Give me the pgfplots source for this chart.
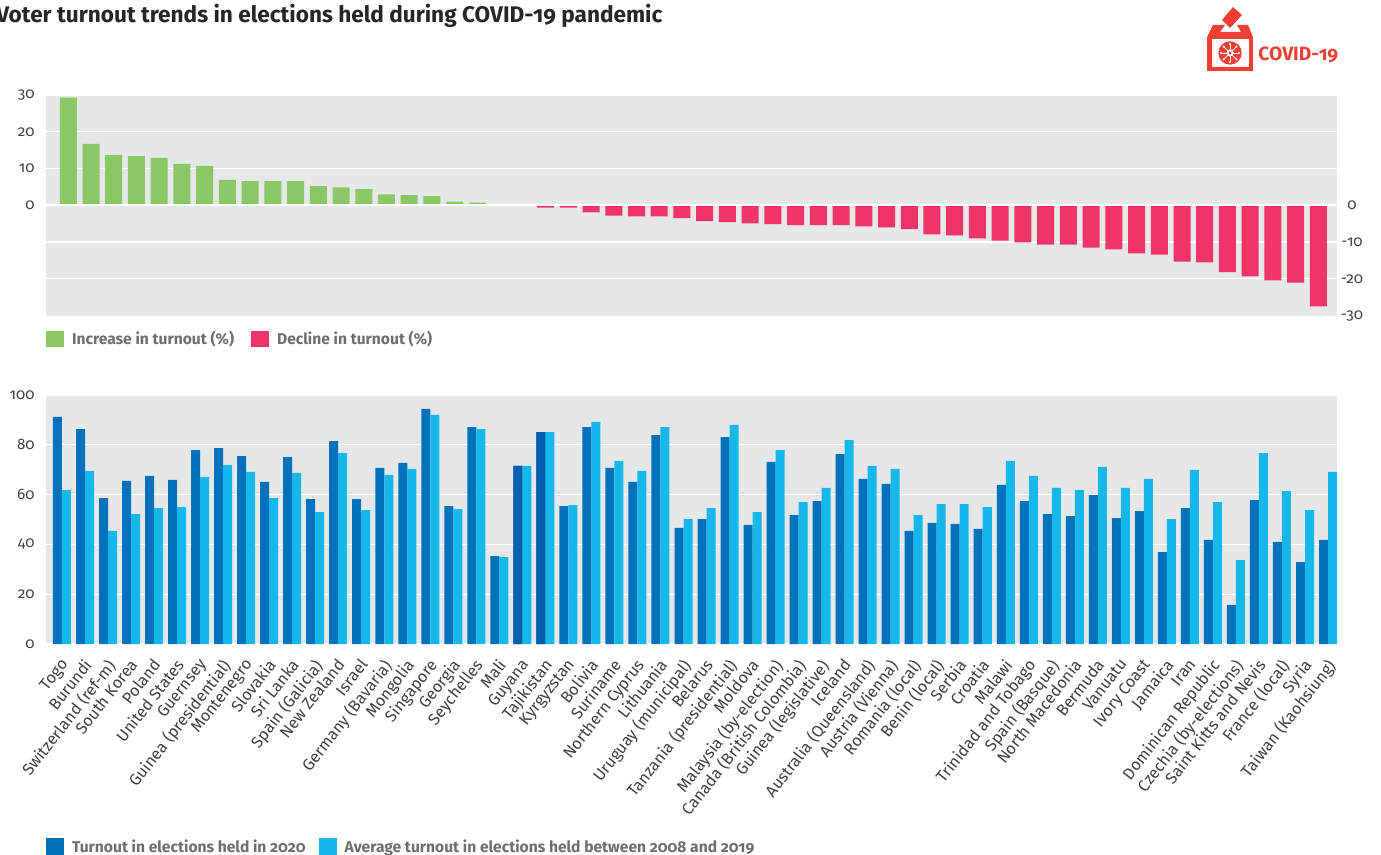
\documentclass[border=0pt]{standalone}
\usepackage{fontspec}
\setmainfont[Numbers=OldStyle]{Fira Sans}
\usepackage{pgfplots}
\pgfplotsset{compat=1.18}
\usepackage{pgfplotstable}
\definecolor{panel}{HTML}{E6E7E9}
\definecolor{upgreen}{HTML}{8AC866}
\definecolor{downred}{HTML}{EE3468}
\definecolor{darkblue}{HTML}{0071BB}
\definecolor{deepblue}{HTML}{005EAE}
\definecolor{lightblue}{HTML}{16B8EB}
\definecolor{ticktext}{HTML}{404040}
\definecolor{legtext}{HTML}{6D6E71}
\definecolor{logored}{HTML}{EF3E33}

% change in turnout, one row per election
\pgfplotstableread{
idx up down
0 29.3 0
1 16.7 0
2 13.7 0
3 13.4 0
4 12.9 0
5 11.3 0
6 10.7 0
7 6.9 0
8 6.6 0
9 6.6 0
10 6.6 0
11 5.2 0
12 4.9 0
13 4.4 0
14 3.0 0
15 2.8 0
16 2.5 0
17 1.0 0
18 0.7 0
19 0 0
20 0 0
21 0 -0.6
22 0 -0.6
23 0 -1.9
24 0 -2.8
25 0 -3.0
26 0 -3.0
27 0 -3.5
28 0 -4.3
29 0 -4.6
30 0 -4.9
31 0 -5.1
32 0 -5.4
33 0 -5.4
34 0 -5.4
35 0 -5.7
36 0 -6.0
37 0 -6.5
38 0 -7.9
39 0 -8.2
40 0 -9.0
41 0 -9.6
42 0 -10.1
43 0 -10.7
44 0 -10.7
45 0 -11.5
46 0 -12.0
47 0 -13.1
48 0 -13.4
49 0 -15.3
50 0 -15.5
51 0 -18.2
52 0 -19.3
53 0 -20.4
54 0 -21.0
55 0 -27.5
}\changetable

% turnout 2020 and average 2008-2019
\pgfplotstableread{
idx now avg
0 91.2 61.8
1 86.3 69.5
2 58.6 45.4
3 65.5 52.2
4 67.5 54.6
5 65.9 55.0
6 77.9 67.1
7 78.7 71.9
8 75.5 69.1
9 65.1 58.6
10 75.1 68.7
11 58.2 53.0
12 81.5 76.7
13 58.2 53.8
14 70.7 67.9
15 72.7 70.3
16 94.4 92.0
17 55.4 54.2
18 87.1 86.3
19 35.3 34.9
20 71.5 71.5
21 85.1 85.1
22 55.4 55.8
23 87.1 89.2
24 70.7 73.5
25 65.1 69.5
26 83.9 87.1
27 46.6 50.2
28 50.2 54.6
29 83.1 88.0
30 47.8 53.0
31 73.1 77.9
32 51.8 57.0
33 57.4 62.7
34 76.3 81.9
35 66.3 71.5
36 64.3 70.3
37 45.4 51.8
38 48.6 56.2
39 48.2 56.2
40 46.2 55.0
41 63.9 73.5
42 57.4 67.5
43 52.2 62.7
44 51.4 61.8
45 59.8 71.1
46 50.6 62.7
47 53.4 66.3
48 36.9 50.2
49 54.6 69.9
50 41.8 57.0
51 15.7 33.7
52 57.8 76.7
53 41.0 61.4
54 32.9 53.8
55 41.8 69.1
}\turnouttable

\pgfplotsset{
  panelaxis/.style={
    scale only axis,
    width=645.5pt,
    axis background/.style={fill=panel},
    axis line style={draw=none},
    major tick length=0pt,
    ymajorgrids,
    grid style={white,line width=0.6pt},
    /pgf/number format/assume math mode=true,
    tick label style={font=\fontsize{7.6}{9}\selectfont,text=ticktext},
    legend cell align=left,
  },
  swatchleg/.style={
    legend style={draw=none,fill=none,inner sep=0pt,outer sep=0pt,
      font=\fontsize{7.8}{9}\selectfont\bfseries,text=legtext,
      legend columns=2,anchor=north west,
      nodes={inner sep=0pt,anchor=base west}},
    legend image code/.code={\fill[##1] (0pt,-1.2pt) rectangle (9pt,7pt);\path (13pt,0pt);},
  },
}

\begin{document}
\begin{tikzpicture}
\useasboundingbox (0pt,0pt) rectangle (690.5pt,-427.5pt);

\node[anchor=base west,inner sep=0pt,font=\fontsize{11.3}{14}\selectfont\bfseries,text=black!85]
  at (-2pt,-11.1pt) {Voter turnout trends in elections held during COVID-19 pandemic};

% top panel
\begin{axis}[panelaxis,
  at={(23pt,-158pt)},anchor=south west,height=110.5pt,
  ybar,
  swatchleg,
  xmin=-0.98,xmax=55.82,ymin=-30.1,ymax=30,
  xtick=\empty,
  ytick={0,10,20,30},
  extra y ticks={-10,-20},extra y tick labels={},
  extra y tick style={grid style={white,line width=0.6pt}},
  yticklabel style={inner sep=0pt,xshift=-5.5pt},
  legend style={at={(0,-0.067)},
    /tikz/column 1/.style={column sep=0pt},
    /tikz/column 2/.style={column sep=8.5pt}},
]
\addplot[fill=upgreen,draw=none,bar width=8.5pt,bar shift=0pt] table[x=idx,y=up] {\changetable};
\addplot[fill=downred,draw=none,bar width=8.5pt,bar shift=0pt] table[x=idx,y=down] {\changetable};
\draw[white,line width=1pt] (axis cs:-0.98,0) -- (axis cs:55.82,0);
\legend{Increase in turnout (\%),Decline in turnout (\%)}
\end{axis}

% labels of the negative half, on the right
\begin{axis}[panelaxis,
  at={(23pt,-158pt)},anchor=south west,height=110.5pt,
  axis background/.style={},
  ymajorgrids=false,
  xmin=-0.98,xmax=55.82,ymin=-30.1,ymax=30,
  xtick=\empty,
  ytick pos=right,
  ytick={0,-10,-20,-30},
  yticklabel style={anchor=center,xshift=7.5pt},
]
\end{axis}

% bottom panel
\begin{axis}[panelaxis,
  at={(23pt,-322pt)},anchor=south west,height=124.5pt,
  ybar,
  swatchleg,
  xmin=-0.695,xmax=55.39,ymin=0,ymax=100,
  ytick={0,20,40,60,80,100},
  yticklabel style={inner sep=0pt,xshift=-5.5pt},
  xtick={0,...,55},
  xticklabels={Togo,Burundi,Switzerland (ref-m),South Korea,Poland,United States,Guernsey,Guinea (presidential),Montenegro,Slovakia,Sri Lanka,Spain (Galicia),New Zealand,Israel,Germany (Bavaria),Mongolia,Singapore,Georgia,Seychelles,Mali,Guyana,Tajikistan,Kyrgyzstan,Bolivia,Suriname,Northern Cyprus,Lithuania,Uruguay (municipal),Belarus,Tanzania (presidential),Moldova,Malaysia (by-election),Canada (British Colombia),Guinea (legislative),Iceland,Australia (Queensland),Austria (Vienna),Romania (local),Benin (local),Serbia,Croatia,Malawi,Trinidad and Tobago,Spain (Basque),North Macedonia,Bermuda,Vanuatu,Ivory Coast,Jamaica,Iran,Dominican Republic,Czechia (by-elections),Saint Kitts and Nevis,France (local),Syria,Taiwan (Kaohsiung)},
  x tick label style={rotate=52,anchor=north east,inner sep=0pt,yshift=-3.1pt,xshift=-5.9pt,
    font=\fontsize{8.1}{9}\selectfont},
  legend style={at={(0,-0.781)},
    /tikz/column 2/.style={column sep=6.5pt}},
]
\addplot[fill=darkblue,draw=none,bar width=4.5pt,bar shift=-2.25pt] table[x=idx,y=now] {\turnouttable};
\addplot[fill=lightblue,draw=none,bar width=4.5pt,bar shift=2.25pt] table[x=idx,y=avg] {\turnouttable};
\addplot[fill=deepblue,draw=none,bar width=4.5pt,bar shift=-2.25pt,forget plot] coordinates {(20,71.5) (21,85.1)};
\legend{Turnout in elections held in 2020,Average turnout in elections held between 2008 and 2019}
\end{axis}

% ballot box logo, in image pixels
\begin{scope}[x=0.5pt,y=-0.5pt]
\fill[logored] (1207,37) -- (1213,25) -- (1225,25) -- (1220,32) -- (1241,32) -- (1237,25) -- (1248,25) -- (1253,37) -- cycle;
\fill[logored] (1207,37) rectangle (1253,71);
\fill[white] (1212,39) rectangle (1249,67);
\fill[logored] (1233,7) -- (1242,15) -- (1230,28) -- (1222,20) -- cycle;
\fill[logored] (1230,53) circle (11.7);
\foreach \a in {0,45,...,315}{
  \draw[white,line width=0.35pt] (1230,53) -- ++(\a:9);
  \fill[white] (1230,53) ++(\a:9) circle (1.1);
}
\fill[white] (1230,53) circle (3.6);
\fill[logored] (1230,53) circle (1.6);
\node[anchor=base west,inner sep=0pt,font=\fontsize{9.6}{11}\selectfont\bfseries,text=logored] at (1258,60.5) {COVID-19};
\end{scope}
\end{tikzpicture}
\end{document}
